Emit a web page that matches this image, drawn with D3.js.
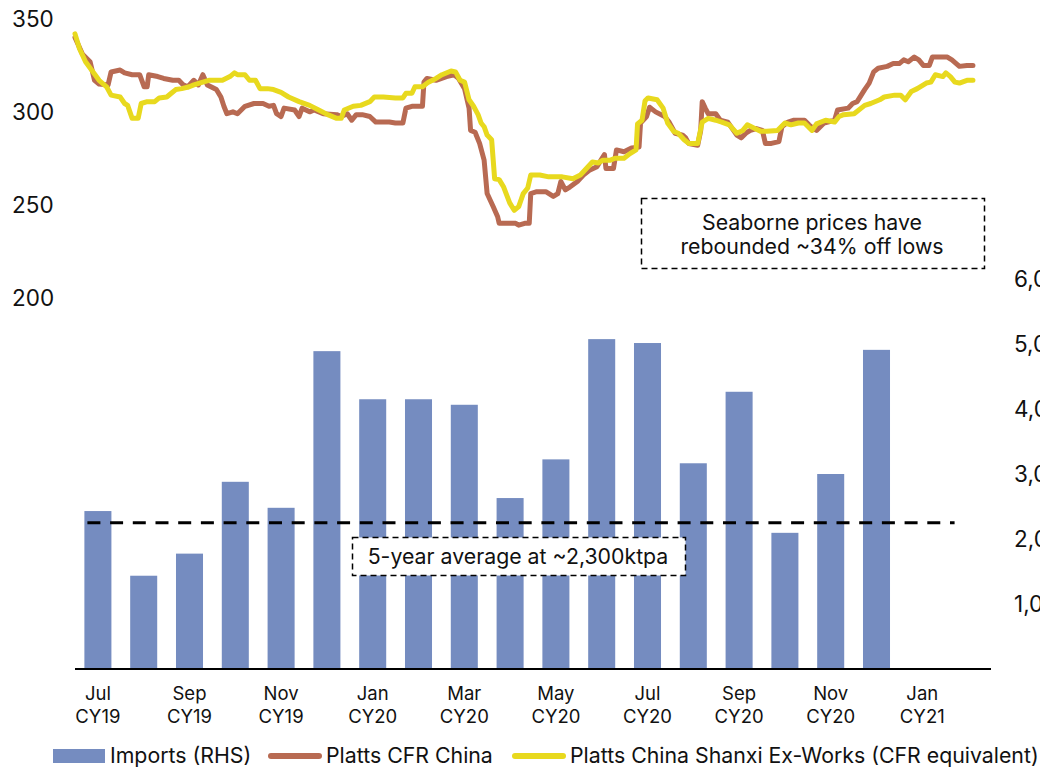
<!DOCTYPE html>
<html><head><meta charset="utf-8">
<script src="https://cdn.jsdelivr.net/npm/d3@7"></script>
<style>
html,body{margin:0;padding:0;background:#fff;overflow:hidden}
svg{display:block;font-family:Inter,"Noto Sans",sans-serif}
</style></head>
<body><svg id="c" width="1040" height="769"></svg>
<script>
const months = ["Jul","Aug","Sep","Oct","Nov","Dec","Jan","Feb","Mar","Apr","May","Jun","Jul","Aug","Sep","Oct","Nov","Dec","Jan","Feb"];
const monthYears = ["CY19","CY19","CY19","CY19","CY19","CY19","CY20","CY20","CY20","CY20","CY20","CY20","CY20","CY20","CY20","CY20","CY20","CY20","CY21","CY21"];
const importsValues = [2430,1435,1775,2880,2480,4890,4150,4150,4065,2630,3225,5075,5015,3165,4265,2095,3000,4910];
const fiveYearAverage = 2250;
const priceTicks = [200,250,300,350];
const importTicks = [1000,2000,3000,4000,5000,6000];
const legendLabels = ["Imports (RHS)","Platts CFR China","Platts China Shanxi Ex-Works (CFR equivalent)"];
const annotationPrices = ["Seaborne prices have","rebounded ~34% off lows"];
const annotationAverage = "5-year average at ~2,300ktpa";

const cfrChina = [["2019-07-01",340],["2019-07-06",331],["2019-07-11",327],["2019-07-14",317],["2019-07-17",315],["2019-07-23",314.5],["2019-07-25",321.5],["2019-07-31",322.5],["2019-08-03",321],["2019-08-08",320],["2019-08-13",320],["2019-08-16",313.5],["2019-08-18",313.5],["2019-08-19",320],["2019-08-25",319],["2019-08-29",318],["2019-09-04",317],["2019-09-08",317],["2019-09-11",314.5],["2019-09-14",313.5],["2019-09-18",317],["2019-09-21",314.5],["2019-09-24",320],["2019-09-27",314.5],["2019-10-03",312],["2019-10-06",308],["2019-10-08",303],["2019-10-10",299],["2019-10-14",300],["2019-10-17",299],["2019-10-22",303],["2019-10-28",304.5],["2019-11-03",304.5],["2019-11-07",303],["2019-11-10",303.5],["2019-11-12",299],["2019-11-15",297.5],["2019-11-17",302],["2019-11-24",301],["2019-11-27",297.5],["2019-11-29",302],["2019-12-04",300],["2019-12-07",301],["2019-12-13",299],["2019-12-22",298.5],["2019-12-25",297.5],["2019-12-29",299],["2020-01-01",295.5],["2020-01-04",298.5],["2020-01-08",298.5],["2020-01-13",297.5],["2020-01-17",294.5],["2020-01-26",294.5],["2020-01-30",294],["2020-02-04",294],["2020-02-06",302],["2020-02-10",303],["2020-02-17",303],["2020-02-18",316],["2020-02-20",318],["2020-02-26",317],["2020-03-04",319],["2020-03-09",320],["2020-03-12",318],["2020-03-16",312.5],["2020-03-19",302],["2020-03-20",290],["2020-03-23",289],["2020-03-26",283],["2020-03-29",274],["2020-03-31",256],["2020-04-04",249],["2020-04-07",243.5],["2020-04-08",240],["2020-04-15",240],["2020-04-19",240],["2020-04-21",239],["2020-04-25",240],["2020-04-28",240],["2020-04-29",256],["2020-05-03",257],["2020-05-09",257],["2020-05-14",254.5],["2020-05-17",256],["2020-05-19",262.5],["2020-05-22",258],["2020-05-25",259.5],["2020-05-30",262.5],["2020-06-03",266],["2020-06-07",268.5],["2020-06-12",270.5],["2020-06-17",277],["2020-06-18",269.5],["2020-06-23",269.5],["2020-06-25",279.5],["2020-06-30",278.5],["2020-07-05",280.5],["2020-07-10",281],["2020-07-11",294],["2020-07-15",297.5],["2020-07-17",302.5],["2020-07-21",300],["2020-07-27",297.5],["2020-07-30",294.5],["2020-08-03",288.5],["2020-08-08",287.5],["2020-08-10",286],["2020-08-12",283],["2020-08-18",282],["2020-08-20",290],["2020-08-21",305.5],["2020-08-23",302],["2020-08-25",299],["2020-08-30",299],["2020-09-02",295.5],["2020-09-07",294.5],["2020-09-13",287.5],["2020-09-16",286],["2020-09-19",288.5],["2020-09-22",290],["2020-09-26",291],["2020-09-30",290],["2020-10-02",283],["2020-10-06",283],["2020-10-11",284],["2020-10-13",292],["2020-10-17",294.5],["2020-10-21",295.5],["2020-10-28",295.5],["2020-10-31",293],["2020-11-03",291],["2020-11-05",290],["2020-11-10",294],["2020-11-17",295.5],["2020-11-19",301],["2020-11-26",302],["2020-11-29",304.5],["2020-12-02",305.5],["2020-12-07",312],["2020-12-10",315.5],["2020-12-13",321.5],["2020-12-16",323.5],["2020-12-22",324.5],["2020-12-26",326],["2020-12-30",326],["2021-01-02",328],["2021-01-05",327],["2021-01-09",329.5],["2021-01-12",328],["2021-01-15",325],["2021-01-19",325],["2021-01-21",329.5],["2021-01-31",329.5],["2021-02-03",328],["2021-02-08",324.5],["2021-02-13",325],["2021-02-17",325]];

const shanxiExWorks = [["2019-07-01",342],["2019-07-04",334],["2019-07-08",327],["2019-07-13",321.5],["2019-07-17",317],["2019-07-22",313.5],["2019-07-25",309],["2019-07-31",308],["2019-08-03",304.5],["2019-08-05",303.5],["2019-08-08",296.5],["2019-08-12",296.5],["2019-08-14",304.5],["2019-08-18",305.5],["2019-08-23",305.5],["2019-08-26",307.5],["2019-08-31",308],["2019-09-03",310],["2019-09-06",312],["2019-09-10",312.5],["2019-09-15",313.5],["2019-09-18",314.5],["2019-09-24",316],["2019-09-28",317],["2019-10-07",317],["2019-10-12",319],["2019-10-15",321],["2019-10-17",320],["2019-10-22",320],["2019-10-25",317],["2019-10-29",317],["2019-11-01",312.5],["2019-11-06",312.5],["2019-11-10",312],["2019-11-15",310.5],["2019-11-20",308],["2019-11-27",305.5],["2019-12-04",303.5],["2019-12-10",301],["2019-12-16",298.5],["2019-12-22",296.5],["2019-12-25",296.5],["2019-12-27",301],["2020-01-02",303],["2020-01-07",303.5],["2020-01-13",305.5],["2020-01-16",308],["2020-01-22",308],["2020-01-30",307.5],["2020-02-04",307.5],["2020-02-06",310],["2020-02-10",310],["2020-02-12",313.5],["2020-02-17",313.5],["2020-02-21",316],["2020-02-26",318],["2020-03-01",320],["2020-03-07",322],["2020-03-10",321.5],["2020-03-13",317],["2020-03-16",316],["2020-03-19",306.5],["2020-03-22",303],["2020-03-25",298.5],["2020-03-27",294],["2020-03-29",292],["2020-03-31",287.5],["2020-04-03",285],["2020-04-05",264],["2020-04-08",263.5],["2020-04-11",259.5],["2020-04-15",251],["2020-04-18",247],["2020-04-21",249],["2020-04-24",256],["2020-04-27",259],["2020-04-29",266],["2020-05-05",266],["2020-05-11",265],["2020-05-20",265],["2020-05-27",264],["2020-06-01",266],["2020-06-05",269.5],["2020-06-09",273],["2020-06-13",272.5],["2020-06-16",274],["2020-06-21",274],["2020-06-24",275],["2020-06-30",275],["2020-07-04",277.5],["2020-07-08",279.5],["2020-07-09",293.5],["2020-07-12",295.5],["2020-07-14",306],["2020-07-16",307.5],["2020-07-22",306.5],["2020-07-26",302],["2020-07-29",294],["2020-08-02",289.5],["2020-08-05",288.5],["2020-08-09",285],["2020-08-12",283],["2020-08-18",283],["2020-08-21",294.5],["2020-08-25",296.5],["2020-08-30",295.5],["2020-09-03",294.5],["2020-09-08",293],["2020-09-13",288.5],["2020-09-17",290],["2020-09-20",293],["2020-09-25",291],["2020-09-29",289.5],["2020-10-03",289.5],["2020-10-10",290],["2020-10-15",294],["2020-10-19",293],["2020-10-24",294],["2020-10-28",294],["2020-11-02",290],["2020-11-05",293.5],["2020-11-11",295.5],["2020-11-17",294.5],["2020-11-20",297.5],["2020-11-23",298.5],["2020-11-30",299],["2020-12-07",303.5],["2020-12-11",304.5],["2020-12-17",306.5],["2020-12-20",308],["2020-12-27",309],["2020-12-31",309],["2021-01-03",306.5],["2021-01-07",311],["2021-01-11",312.5],["2021-01-17",315.5],["2021-01-20",316],["2021-01-23",320],["2021-01-28",319],["2021-01-30",321],["2021-02-02",319],["2021-02-05",316],["2021-02-08",315.5],["2021-02-13",317],["2021-02-17",317]];

const C = {bar:"#758cc0", cfr:"#b86a52", shanxi:"#e8d91e", text:"#111"};
const svg = d3.select("#c");
const parse = d3.timeParse("%Y-%m-%d");
const cats = months.map((m,i)=>i);

const plotL = 75, plotR = 991, yBase = 669, yTop = 19;
const x = d3.scaleBand().domain(cats).range([plotL, plotR]).paddingInner(0.41).paddingOuter(0.205);
const xt = d3.scaleTime().domain([parse("2019-07-01"), parse("2021-03-01")]).range([plotL, plotR]);
const yP = d3.scaleLinear().domain([0,350]).range([yBase, yTop]);
const yI = d3.scaleLinear().domain([0,10000]).range([yBase, yTop]);

// bars
svg.append("g").selectAll("rect").data(importsValues).join("rect")
  .attr("x",(d,i)=>x(i)).attr("width",x.bandwidth())
  .attr("y",d=>yI(d)).attr("height",d=>yI(0)-yI(d))
  .attr("fill",C.bar);

// average dashed line
svg.append("line")
  .attr("x1", x(0)+3).attr("x2", x(19))
  .attr("y1", yI(fiveYearAverage)).attr("y2", yI(fiveYearAverage))
  .attr("stroke","#000").attr("stroke-width",3).attr("stroke-dasharray","13,9.7");

// average annotation box
const avgBox = svg.append("g");
avgBox.append("rect").attr("x",352.5).attr("y",537.5).attr("width",333).attr("height",38)
  .attr("fill","#fff").attr("stroke","#000").attr("stroke-width",1.5).attr("stroke-dasharray","6,4");
avgBox.append("text").attr("x",518).attr("y",557).attr("text-anchor","middle").attr("dy","0.35em")
  .attr("font-size",21.3).attr("fill",C.text).text(annotationAverage);

// x axis line
svg.append("line").attr("x1",plotL).attr("x2",plotR).attr("y1",yBase).attr("y2",yBase)
  .attr("stroke","#000").attr("stroke-width",2);

// x labels
const xl = svg.append("g").attr("font-size",18.5).attr("fill",C.text).attr("text-anchor","middle");
cats.filter(i=>i%2===0).forEach(i=>{
  const cx = x(i)+x.bandwidth()/2;
  xl.append("text").attr("x",cx).attr("y",700).text(months[i]);
  xl.append("text").attr("x",cx).attr("y",723).text(monthYears[i]);
});

// left axis labels
const yl = svg.append("g").attr("font-size",22.5).attr("fill",C.text);
priceTicks.forEach(t=>{
  yl.append("text").attr("x",12).attr("y",yP(t)).attr("dy","0.36em").text(t);
});
// right axis labels
const fmt = d3.format(",");
importTicks.forEach(t=>{
  yl.append("text").attr("x",1014).attr("y",yI(t)).attr("dy","0.36em").text(fmt(t));
});

// lines
const line = d3.line().x(d=>xt(parse(d[0]))).y(d=>yP(d[1])).curve(d3.curveLinear);
svg.append("path").datum(cfrChina).attr("d",line).attr("fill","none")
  .attr("stroke",C.cfr).attr("stroke-width",5).attr("stroke-linejoin","round").attr("stroke-linecap","round");
svg.append("path").datum(shanxiExWorks).attr("d",line).attr("fill","none")
  .attr("stroke",C.shanxi).attr("stroke-width",5).attr("stroke-linejoin","round").attr("stroke-linecap","round");

// price annotation box
const pb = svg.append("g");
pb.append("rect").attr("x",641.5).attr("y",198.5).attr("width",343).attr("height",70)
  .attr("fill","#fff").attr("stroke","#000").attr("stroke-width",1.5).attr("stroke-dasharray","6,4");
annotationPrices.forEach((s,i)=>{
  pb.append("text").attr("x",812).attr("y",223+i*24).attr("dy","0.35em").attr("text-anchor","middle")
    .attr("font-size",21.3).attr("fill",C.text).text(s);
});

// legend
const lg = svg.append("g").attr("font-size",21.3).attr("fill",C.text);
const ly = 756;
lg.append("rect").attr("x",53).attr("y",ly-7).attr("width",52).attr("height",14).attr("fill",C.bar);
lg.append("text").attr("x",110).attr("y",ly).attr("dy","0.35em").text(legendLabels[0]);
lg.append("line").attr("x1",271).attr("x2",319).attr("y1",ly).attr("y2",ly).attr("stroke",C.cfr).attr("stroke-width",6).attr("stroke-linecap","round");
lg.append("text").attr("x",326).attr("y",ly).attr("dy","0.35em").text(legendLabels[1]);
lg.append("line").attr("x1",515).attr("x2",563).attr("y1",ly).attr("y2",ly).attr("stroke",C.shanxi).attr("stroke-width",6).attr("stroke-linecap","round");
lg.append("text").attr("x",570).attr("y",ly).attr("dy","0.35em").text(legendLabels[2]);
</script></body></html>
